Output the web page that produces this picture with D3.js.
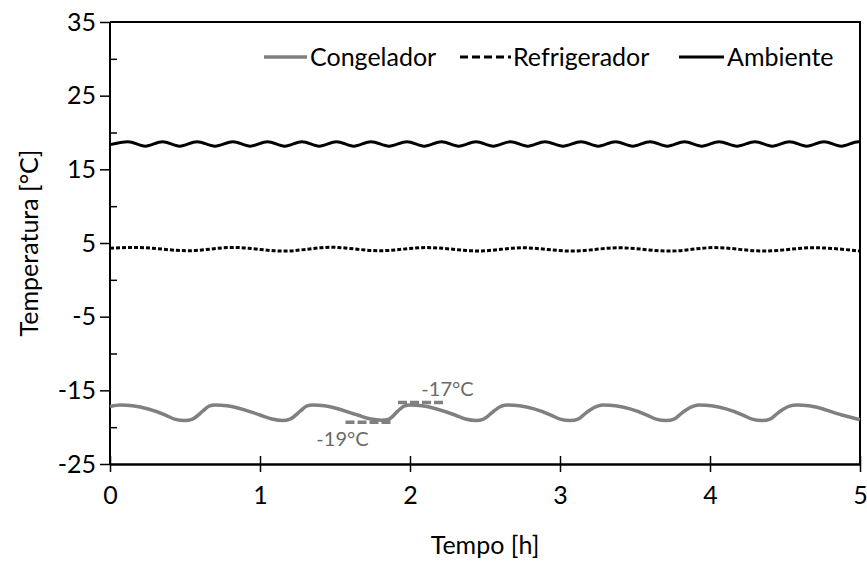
<!DOCTYPE html>
<html>
<head>
<meta charset="utf-8">
<script src="https://cdn.jsdelivr.net/npm/d3@7"></script>
<style>
  html, body { margin: 0; padding: 0; background: #fff; }
  svg { display: block; font-family: Lato, "Open Sans", sans-serif; }
</style>
</head>
<body>
<svg id="chart" width="867" height="564"></svg>
<script>
// Temperature readings over five hours (hours, °C)
const freezerTime = [0.00, 0.07, 0.15, 0.37, 0.43, 0.50, 0.55, 0.62, 0.66,
  0.70, 0.78, 1.00, 1.08, 1.15, 1.20, 1.27, 1.31,
  1.35, 1.43, 1.65, 1.74, 1.81, 1.86, 1.92, 1.96,
  2.00, 2.08, 2.30, 2.37, 2.44, 2.49, 2.56, 2.61,
  2.65, 2.73, 2.94, 3.00, 3.07, 3.12, 3.19, 3.25,
  3.29, 3.37, 3.58, 3.64, 3.71, 3.76, 3.83, 3.89,
  3.93, 4.01, 4.22, 4.28, 4.35, 4.40, 4.47, 4.53,
  4.58, 4.66, 4.88, 5.00];
const freezerTemp = [-17.2, -17.0, -17.1, -18.35, -18.9, -19.1, -18.9, -17.8, -17.15,
  -17.0, -17.1, -18.35, -18.9, -19.1, -18.9, -17.8, -17.15,
  -17.0, -17.1, -18.35, -18.9, -19.05, -18.9, -17.8, -17.15,
  -17.0, -17.1, -18.35, -18.9, -19.1, -18.9, -17.8, -17.15,
  -17.0, -17.1, -18.35, -18.9, -19.1, -18.9, -17.8, -17.15,
  -17.0, -17.1, -18.35, -18.9, -19.1, -18.9, -17.8, -17.15,
  -17.0, -17.1, -18.35, -18.9, -19.1, -18.9, -17.8, -17.15,
  -17.0, -17.1, -18.35, -19.0];

const fridgeTime = [0.00, 0.17, 0.52, 0.82, 1.16, 1.47, 1.80, 2.11, 2.46,
  2.75, 3.08, 3.39, 3.73, 4.03, 4.36, 4.69, 5.00];
const fridgeTemp = [4.30, 4.40, 3.95, 4.40, 3.90, 4.42, 3.95, 4.38, 3.92,
  4.35, 3.90, 4.35, 3.90, 4.38, 3.90, 4.36, 3.90];

const ambientTime = [0.00, 0.12, 0.235, 0.35, 0.465, 0.58, 0.70, 0.82, 0.935,
  1.05, 1.165, 1.28, 1.395, 1.51, 1.625, 1.74, 1.86, 1.98, 2.095,
  2.21, 2.325, 2.44, 2.555, 2.67, 2.785, 2.90, 3.02, 3.14, 3.255,
  3.37, 3.485, 3.60, 3.715, 3.83, 3.945, 4.06, 4.18, 4.30, 4.415,
  4.53, 4.645, 4.76, 4.875, 4.99, 5.00];
const ambientTemp = [18.35, 18.75, 18.15, 18.75, 18.15, 18.75, 18.15, 18.75, 18.15,
  18.75, 18.15, 18.75, 18.15, 18.75, 18.15, 18.75, 18.15, 18.75, 18.15,
  18.75, 18.15, 18.75, 18.15, 18.75, 18.15, 18.75, 18.15, 18.75, 18.15,
  18.75, 18.15, 18.75, 18.15, 18.75, 18.15, 18.75, 18.15, 18.75, 18.15,
  18.75, 18.15, 18.75, 18.15, 18.75, 18.75];

const seriesNames = ["Congelador", "Refrigerador", "Ambiente"];

const xTicks = [0, 1, 2, 3, 4, 5];
const yTicks = [-25, -15, -5, 5, 15, 25, 35];
const yMinorTicks = [-20, -10, 0, 10, 20, 30];

// Reference levels marked on the freezer curve
const markLevel = [-19, -17];
const markStart = [1.57, 1.92];
const markEnd = [1.87, 2.22];
const markLabel = ["-19°C", "-17°C"];
const markLabelT = [1.55, 2.25];

const svg = d3.select("#chart");
const plot = { left: 110, right: 860, top: 22, bottom: 464 };

const x = d3.scaleLinear().domain([0, 5]).range([plot.left, plot.right]);
const y = d3.scaleLinear().domain([-25, 35]).range([plot.bottom, plot.top]);

const FONT = 25;
const plain = d => String(d); // hyphen-minus, as in the spreadsheet labels

// Plot frame (top and right)
svg.append("path")
  .attr("d", `M${plot.left},${plot.top}H${plot.right}V${plot.bottom}`)
  .attr("fill", "none").attr("stroke", "#000").attr("stroke-width", 2);

// Y axis, major ticks outside
const yAxis = svg.append("g")
  .attr("transform", `translate(${plot.left},0)`)
  .call(d3.axisLeft(y).tickValues(yTicks).tickSize(10).tickPadding(4).tickFormat(plain));
yAxis.select(".domain").attr("stroke-width", 2).attr("d", `M0,${plot.top}V${plot.bottom}`);
yAxis.selectAll(".tick line").attr("stroke-width", 1.5);
yAxis.selectAll(".tick text").attr("font-size", FONT).attr("font-family", "Lato").attr("fill", "#000");

// Minor ticks inside
svg.append("g")
  .attr("transform", `translate(${plot.left},0)`)
  .call(d3.axisRight(y).tickValues(yMinorTicks).tickSize(7).tickFormat(""))
  .call(g => g.select(".domain").remove())
  .selectAll(".tick line").attr("stroke-width", 1.5);

// X axis, crossing ticks
const xAxis = svg.append("g")
  .attr("transform", `translate(0,${plot.bottom})`)
  .call(d3.axisBottom(x).tickValues(xTicks).tickSizeInner(8).tickSizeOuter(0).tickPadding(14)
    .tickFormat(plain));
xAxis.select(".domain").attr("stroke-width", 2.5);
xAxis.selectAll(".tick line").attr("y1", -8).attr("stroke-width", 1.5);
xAxis.selectAll(".tick text").attr("font-size", FONT).attr("font-family", "Lato").attr("fill", "#000");

// Axis titles
svg.append("text")
  .attr("x", (plot.left + plot.right) / 2).attr("y", 554)
  .attr("text-anchor", "middle").attr("font-size", FONT).attr("fill", "#000")
  .text("Tempo [h]");
svg.append("text")
  .attr("transform", `translate(38,${(plot.top + plot.bottom) / 2}) rotate(-90)`)
  .attr("text-anchor", "middle").attr("font-size", FONT).attr("fill", "#000")
  .text("Temperatura [°C]");

// Series lines
const line = d3.line().curve(d3.curveMonotoneX).x(d => x(d[0])).y(d => y(d[1]));
const series = [
  { name: seriesNames[0], pts: d3.zip(freezerTime, freezerTemp), color: "#808080", width: 3.5, dash: null },
  { name: seriesNames[1], pts: d3.zip(fridgeTime, fridgeTemp), color: "#000", width: 3, dash: "4,2" },
  { name: seriesNames[2], pts: d3.zip(ambientTime, ambientTemp), color: "#000", width: 3, dash: null }
];
series.forEach(s => {
  svg.append("path")
    .datum(s.pts)
    .attr("d", line)
    .attr("fill", "none")
    .attr("stroke", s.color)
    .attr("stroke-width", s.width)
    .attr("stroke-dasharray", s.dash);
});

// Level markers with labels
markLevel.forEach((v, i) => {
  const below = v < -18;
  const off = below ? 2.5 : -2.5;
  svg.append("line")
    .attr("x1", x(markStart[i])).attr("x2", x(markEnd[i]))
    .attr("y1", y(v) + off).attr("y2", y(v) + off)
    .attr("stroke", "#808080").attr("stroke-width", 3.5)
    .attr("stroke-dasharray", "9,3");
  svg.append("text")
    .attr("x", x(markLabelT[i])).attr("y", y(v) + (below ? 26 : -9))
    .attr("text-anchor", "middle").attr("font-size", 20).attr("fill", "#6a6a6a")
    .text(markLabel[i]);
});

// Legend
const legendY = 57;
const legendItems = [
  { x0: 264, x1: 307, tx: 310, s: series[0], dash: null },
  { x0: 460, x1: 511, tx: 513, s: series[1], dash: "8,4" },
  { x0: 679, x1: 724, tx: 727, s: series[2], dash: null }
];
legendItems.forEach(it => {
  svg.append("line")
    .attr("x1", it.x0).attr("x2", it.x1).attr("y1", legendY).attr("y2", legendY)
    .attr("stroke", it.s.color).attr("stroke-width", it.s.width)
    .attr("stroke-dasharray", it.dash);
  svg.append("text")
    .attr("x", it.tx).attr("y", legendY).attr("dy", "0.35em")
    .attr("font-size", FONT).attr("fill", "#000")
    .text(it.s.name);
});
</script>
</body>
</html>
